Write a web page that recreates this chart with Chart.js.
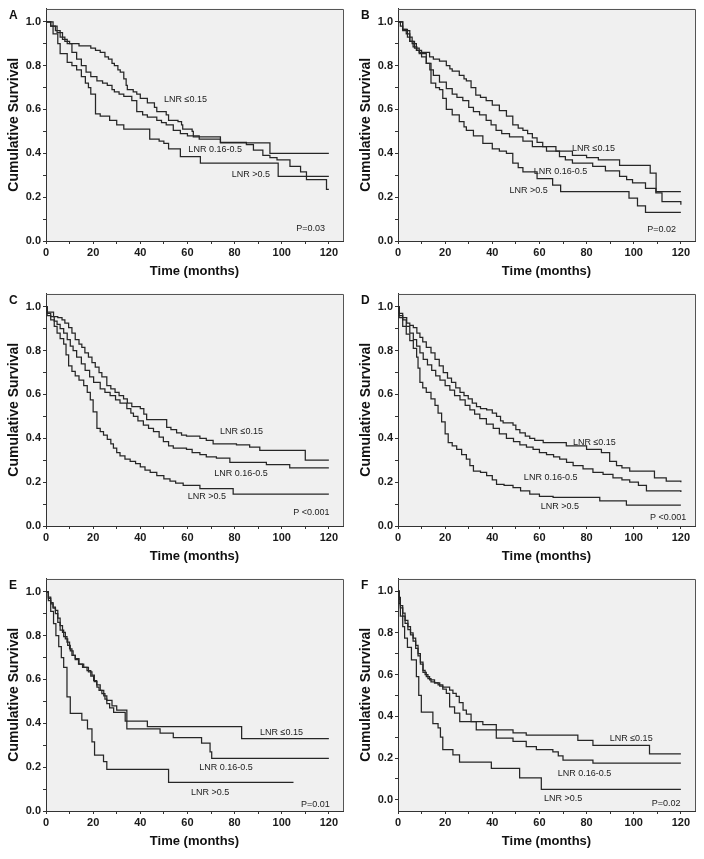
<!DOCTYPE html>
<html>
<head>
<meta charset="utf-8">
<script src="https://cdn.jsdelivr.net/npm/chart.js@4/dist/chart.umd.min.js"></script>
<style>
  html, body { margin: 0; padding: 0; background: #fff; }
  #fig { position: relative; width: 704px; height: 859px; }
  .panel { position: absolute; width: 352px; height: 285px; }
</style>
</head>
<body>
<div id="fig">
  <div class="panel" style="left:0;top:0"><canvas id="pA" width="352" height="285"></canvas></div>
  <div class="panel" style="left:352px;top:0"><canvas id="pB" width="352" height="285"></canvas></div>
  <div class="panel" style="left:0;top:285px"><canvas id="pC" width="352" height="285"></canvas></div>
  <div class="panel" style="left:352px;top:285px"><canvas id="pD" width="352" height="285"></canvas></div>
  <div class="panel" style="left:0;top:570px"><canvas id="pE" width="352" height="285"></canvas></div>
  <div class="panel" style="left:352px;top:570px"><canvas id="pF" width="352" height="285"></canvas></div>
</div>
<script>
'use strict';

/* Axis ticks */
const X_TICKS = [0, 10, 20, 30, 40, 50, 60, 70, 80, 90, 100, 110, 120];
const Y_TICKS = [0, 0.1, 0.2, 0.3, 0.4, 0.5, 0.6, 0.7, 0.8, 0.9, 1.0];

/* Group names */
const GROUPS = ['LNR \u22640.15', 'LNR 0.16-0.5', 'LNR >0.5'];

/* Kaplan-Meier steps: [month, survival] */
const aLow = [[0,1],[2,0.98],[4,0.96],[6,0.93],[8,0.91],[10,0.90],[14,0.89],[19,0.88],[21,0.87],[23,0.86],[25,0.84],[26.5,0.83],[28,0.81],[29,0.80],[30.5,0.78],[31.5,0.77],[33,0.74],[34,0.71],[34.5,0.69],[37,0.68],[38.5,0.67],[40,0.65],[43,0.63],[46,0.61],[47,0.59],[51,0.575],[52,0.55],[56,0.545],[57.5,0.53],[58,0.51],[62,0.50],[62.5,0.475],[74,0.447],[95,0.40],[120,0.40]];
const aMid = [[0,1],[2,0.98],[4.7,0.95],[7,0.92],[9,0.90],[11,0.86],[13,0.83],[15,0.80],[17,0.77],[19,0.75],[21.6,0.73],[24,0.72],[26,0.71],[28,0.69],[29,0.68],[31,0.67],[33,0.66],[36.4,0.64],[38.5,0.59],[41,0.575],[43,0.565],[47,0.55],[49,0.54],[51,0.53],[54,0.505],[57,0.49],[60,0.48],[65,0.465],[74,0.45],[85,0.44],[88,0.415],[92,0.39],[95,0.38],[98,0.37],[103.5,0.34],[108,0.315],[110.5,0.28],[119,0.235],[120,0.235]];
const aHigh = [[0,1],[3,0.945],[5,0.90],[6,0.855],[9,0.815],[11,0.80],[13,0.78],[15,0.75],[16.7,0.72],[18,0.70],[19,0.67],[21,0.58],[23,0.57],[27,0.55],[30,0.53],[33,0.51],[44,0.465],[48,0.455],[50,0.445],[52,0.42],[57,0.385],[65.5,0.355],[98.5,0.295],[120,0.295]];

const bLow = [[0,1],[1,0.98],[2,0.965],[3.5,0.945],[5,0.91],[6.4,0.885],[8,0.87],[9,0.86],[13.4,0.84],[15,0.83],[17.6,0.82],[20.5,0.80],[22,0.785],[23,0.775],[26,0.755],[28,0.74],[29,0.73],[31,0.70],[33,0.665],[35,0.655],[37.4,0.64],[40,0.62],[43,0.595],[46,0.57],[48.7,0.53],[51,0.515],[53,0.505],[55,0.49],[57,0.47],[59,0.45],[61.4,0.43],[67,0.41],[74,0.39],[80,0.38],[85,0.37],[94,0.345],[107,0.31],[109.5,0.225],[120,0.225]];
const bMid = [[0,1],[2,0.96],[5,0.91],[7,0.88],[9,0.855],[12,0.81],[13.5,0.78],[15,0.755],[17.6,0.725],[20.5,0.695],[23,0.67],[25,0.655],[27.5,0.64],[30,0.61],[32,0.59],[34.6,0.575],[37.4,0.55],[39.5,0.53],[41.6,0.505],[44,0.49],[47.3,0.475],[53,0.455],[57,0.43],[63,0.41],[68.5,0.385],[71,0.37],[74,0.355],[82.6,0.34],[88,0.32],[94,0.295],[97,0.28],[99.5,0.265],[105,0.24],[109.4,0.22],[112,0.18],[120,0.165]];
const bHigh = [[0,1],[2,0.965],[4,0.93],[6,0.90],[7.8,0.87],[10,0.84],[12,0.81],[14,0.72],[16,0.70],[17.6,0.69],[19,0.65],[20.5,0.60],[23,0.575],[26,0.545],[28,0.52],[29,0.505],[32,0.48],[36,0.445],[40,0.42],[43,0.41],[46,0.40],[48.7,0.355],[51,0.335],[53,0.315],[59,0.285],[65.6,0.255],[69,0.225],[98,0.195],[101.6,0.16],[105,0.13],[120,0.13]];

const cLow = [[0,1],[0.5,0.975],[3.2,0.955],[5,0.95],[6.8,0.94],[8,0.925],[9.6,0.905],[11,0.88],[12.4,0.85],[14,0.83],[15.2,0.815],[16.5,0.79],[18,0.77],[19.5,0.745],[20.9,0.725],[22.5,0.70],[23.7,0.68],[25.8,0.64],[27.5,0.625],[29.3,0.61],[31,0.595],[32.9,0.58],[34.5,0.56],[36.4,0.545],[40,0.535],[41.5,0.51],[42.7,0.485],[51.2,0.45],[53,0.44],[55.4,0.425],[57.5,0.415],[59.6,0.41],[65.3,0.40],[68,0.39],[70.9,0.375],[80.8,0.37],[86.4,0.36],[90.7,0.345],[110,0.30],[120,0.30]];
const cMid = [[0,1],[0.5,0.97],[2,0.955],[3.5,0.935],[4.7,0.92],[6,0.90],[7.5,0.88],[9,0.85],[10.3,0.82],[11.5,0.80],[13,0.77],[15,0.74],[16.6,0.71],[18.5,0.68],[20.2,0.655],[23,0.625],[25,0.61],[27.2,0.595],[29.5,0.575],[31.4,0.56],[34.3,0.535],[36,0.515],[37.1,0.50],[39,0.48],[41.3,0.46],[43.5,0.445],[45.6,0.43],[48,0.405],[49.8,0.385],[52,0.365],[54,0.355],[59.6,0.35],[62,0.335],[65.3,0.325],[68,0.315],[72.3,0.31],[78,0.29],[93.5,0.28],[103.4,0.265],[120,0.265]];
const cHigh = [[0,1],[0.5,0.96],[2,0.94],[3.5,0.91],[4.7,0.88],[6,0.855],[7.5,0.83],[8.5,0.78],[9.6,0.73],[11,0.705],[12.4,0.685],[14,0.665],[16,0.64],[17.5,0.61],[18.8,0.575],[20,0.52],[21.6,0.445],[23,0.43],[24.4,0.415],[26,0.395],[27.5,0.375],[28.6,0.355],[30,0.335],[31.4,0.32],[33.5,0.305],[35.7,0.295],[38,0.285],[40,0.27],[42,0.255],[44.2,0.245],[47,0.23],[50,0.215],[52.6,0.205],[55,0.195],[58.2,0.185],[65.3,0.17],[79.4,0.145],[120,0.145]];

const dLow = [[0,1],[0.5,0.97],[2,0.95],[3.7,0.925],[5,0.915],[6.5,0.905],[8,0.88],[9.3,0.86],[10.5,0.84],[12,0.815],[14,0.79],[15.7,0.76],[17.5,0.73],[19.2,0.70],[21,0.675],[22.7,0.655],[24.5,0.63],[26.3,0.61],[28,0.595],[29.8,0.58],[31.5,0.56],[33.3,0.545],[35,0.535],[37.6,0.53],[40,0.515],[41.8,0.50],[43.5,0.48],[44.6,0.47],[48.8,0.46],[50,0.44],[51.7,0.425],[54,0.41],[55.9,0.40],[58,0.39],[61.6,0.38],[71.4,0.365],[80,0.35],[86.3,0.335],[89.8,0.295],[92.7,0.275],[95,0.265],[98.3,0.25],[108.8,0.22],[113.8,0.205],[120,0.20]];
const dMid = [[0,1],[0.5,0.96],[2,0.94],[3.5,0.91],[5,0.88],[6.5,0.85],[7.9,0.82],[9.3,0.79],[10.7,0.76],[12.5,0.735],[14.3,0.71],[16,0.685],[17.8,0.665],[20,0.64],[22,0.62],[24,0.595],[26.3,0.575],[28.5,0.55],[30.5,0.53],[32.5,0.51],[34.7,0.49],[37.5,0.465],[40.4,0.445],[43,0.42],[46,0.40],[49,0.385],[51.7,0.37],[54.5,0.36],[57.3,0.35],[60,0.335],[63,0.325],[66,0.315],[68.6,0.305],[71.5,0.29],[74.3,0.275],[78.5,0.26],[82.7,0.245],[87,0.235],[91.2,0.22],[95,0.21],[98.3,0.20],[102,0.185],[105.4,0.16],[120,0.155]];
const dHigh = [[0,1],[0.5,0.95],[2,0.91],[3.5,0.875],[5,0.845],[6.5,0.81],[7.9,0.77],[8.5,0.72],[9.3,0.655],[10.5,0.63],[12,0.61],[14,0.58],[15.7,0.55],[17,0.515],[18.5,0.475],[20,0.42],[21.3,0.38],[23,0.365],[24.9,0.35],[27,0.325],[29,0.305],[30.5,0.275],[32,0.25],[35,0.245],[37.6,0.23],[40,0.21],[41.8,0.19],[45,0.185],[48.8,0.175],[52,0.16],[55.9,0.145],[60,0.135],[65.8,0.13],[80,0.13],[85.6,0.115],[96.9,0.095],[120,0.095]];

const eLow = [[0,1],[1,0.975],[2,0.95],[3,0.93],[4,0.915],[5,0.88],[6,0.845],[7,0.815],[8.2,0.785],[9.2,0.755],[10.3,0.73],[11.5,0.71],[12.4,0.695],[14,0.67],[16,0.655],[18,0.635],[19.5,0.62],[20.5,0.59],[21.6,0.565],[22.5,0.55],[23.7,0.535],[25,0.51],[25.8,0.49],[27,0.47],[28.7,0.45],[33.6,0.41],[43,0.385],[83,0.33],[120,0.33]];
const eMid = [[0,1],[1,0.97],[2,0.945],[3,0.925],[4,0.90],[5,0.86],[6,0.825],[7.5,0.795],[8.9,0.77],[10,0.74],[11,0.71],[12.4,0.69],[13.8,0.67],[15.5,0.655],[17.4,0.64],[19,0.615],[20.2,0.595],[21.5,0.575],[23,0.55],[24.5,0.525],[25.8,0.505],[28,0.48],[30,0.46],[34.3,0.375],[48.4,0.355],[54,0.335],[66,0.31],[69.6,0.27],[70.3,0.24],[120,0.24]];
const eHigh = [[0,1],[1,0.96],[2,0.91],[3.2,0.855],[4.2,0.80],[5.4,0.75],[6.5,0.70],[7.5,0.655],[8.9,0.52],[10.3,0.445],[15.2,0.415],[17.6,0.375],[19.5,0.315],[20.6,0.255],[24.4,0.225],[25.8,0.19],[52,0.13],[105,0.13]];

const fLow = [[0,1],[0.5,0.97],[1,0.93],[2,0.895],[3,0.86],[4.2,0.83],[5.3,0.80],[6.4,0.775],[7.5,0.74],[8.5,0.70],[9.5,0.66],[10.6,0.62],[11.5,0.60],[12.7,0.58],[14,0.565],[15.5,0.56],[17,0.55],[19,0.54],[21.9,0.525],[23.3,0.51],[24.7,0.495],[26,0.465],[27.6,0.43],[29,0.41],[31,0.375],[36,0.36],[41.7,0.335],[48.8,0.32],[54.4,0.31],[76.3,0.285],[82.7,0.26],[106.7,0.22],[120,0.22]];
const fMid = [[0,1],[0.5,0.96],[1,0.92],[2,0.88],[3,0.845],[4.2,0.815],[5.3,0.79],[6.4,0.76],[7.5,0.725],[8.5,0.69],[9.5,0.65],[10.6,0.61],[12,0.59],[13.4,0.575],[15.5,0.56],[17.7,0.545],[19,0.53],[20.5,0.51],[21.9,0.445],[24,0.415],[26.2,0.375],[33.2,0.335],[41.7,0.295],[48.8,0.28],[54.4,0.255],[58.7,0.24],[65.7,0.23],[68,0.21],[70,0.19],[82.7,0.175],[120,0.175]];
const fHigh = [[0,1],[0.5,0.94],[1,0.88],[2,0.83],[2.8,0.775],[4,0.73],[5.7,0.67],[7.8,0.59],[8.8,0.50],[9.9,0.42],[14.8,0.365],[17,0.345],[18,0.30],[19,0.24],[23.3,0.215],[26.1,0.18],[39.6,0.15],[51.6,0.105],[60.8,0.05],[120,0.05]];

/* P values per panel */
const P_TEXT = ['P=0.03', 'P=0.02', 'P <0.001', 'P <0.001', 'P=0.01', 'P=0.02'];

/* Where the group names and P value sit, in data units [month, survival] */
const LABEL_AT = [
  [[50.1, 0.645], [60.4, 0.415], [78.8, 0.305]],
  [[73.8, 0.42], [57.6, 0.316], [47.3, 0.23]],
  [[73.8, 0.43], [71.4, 0.24], [60.1, 0.135]],
  [[74.2, 0.38], [53.4, 0.22], [60.6, 0.09]],
  [[90.8, 0.357], [65, 0.198], [61.5, 0.085]],
  [[89.8, 0.295], [67.8, 0.128], [61.9, 0.008]]
];
const P_AT = [[118.4, 0.057], [117.9, 0.054], [120.3, 0.062], [122.3, 0.04], [120.4, 0.03], [119.9, -0.016]];

const PANELS = [
  { id: 'pA', letter: 'A', curves: [aLow, aMid, aHigh], yMin: 0 },
  { id: 'pB', letter: 'B', curves: [bLow, bMid, bHigh], yMin: 0 },
  { id: 'pC', letter: 'C', curves: [cLow, cMid, cHigh], yMin: 0 },
  { id: 'pD', letter: 'D', curves: [dLow, dMid, dHigh], yMin: 0 },
  { id: 'pE', letter: 'E', curves: [eLow, eMid, eHigh], yMin: 0 },
  { id: 'pF', letter: 'F', curves: [fLow, fMid, fHigh], yMin: -0.054 }
];

const FONT = '"Liberation Sans", Arial, Helvetica, sans-serif';
const LINE = '#262626';
const AXIS = '#333';

Chart.defaults.font.family = FONT;
Chart.defaults.color = '#1a1a1a';

/* Plot background and top/right frame */
const framePlugin = {
  id: 'frame',
  beforeDraw(chart) {
    const { ctx, chartArea: a } = chart;
    ctx.save();
    ctx.fillStyle = '#f0f0f0';
    ctx.fillRect(a.left, a.top, a.right - a.left, a.bottom - a.top);
    ctx.restore();
  },
  afterDatasetsDraw(chart) {
    const { ctx, chartArea: a } = chart;
    ctx.save();
    ctx.strokeStyle = '#555';
    ctx.lineWidth = 1;
    ctx.beginPath();
    ctx.moveTo(a.left, Math.round(a.top) + 0.5);
    ctx.lineTo(Math.round(a.right) + 0.5, Math.round(a.top) + 0.5);
    ctx.lineTo(Math.round(a.right) + 0.5, a.bottom);
    ctx.stroke();
    ctx.restore();
  }
};

/* Panel letter, group names and P value */
const textPlugin = {
  id: 'notes',
  afterDraw(chart, args, opts) {
    const { ctx, scales: { x, y } } = chart;
    ctx.save();
    ctx.fillStyle = '#111';
    ctx.font = 'bold 12px ' + FONT;
    ctx.textAlign = 'left';
    ctx.textBaseline = 'alphabetic';
    ctx.fillText(opts.letter, 9, 19);

    ctx.fillStyle = '#222';
    ctx.font = '9px ' + FONT;
    ctx.textBaseline = 'middle';
    opts.labels.forEach((pos, i) => {
      ctx.fillText(GROUPS[i], x.getPixelForValue(pos[0]), y.getPixelForValue(pos[1]));
    });
    ctx.textAlign = 'right';
    ctx.fillText(opts.pText, x.getPixelForValue(opts.pAt[0]), y.getPixelForValue(opts.pAt[1]));
    ctx.restore();
  }
};

function makePanel(panel, i) {
  const ctx = document.getElementById(panel.id).getContext('2d');
  return new Chart(ctx, {
    type: 'line',
    data: {
      datasets: panel.curves.map((curve, k) => ({
        label: GROUPS[k],
        data: curve.map(p => ({ x: p[0], y: p[1] })),
        borderColor: LINE,
        borderWidth: 1.25,
        pointRadius: 0,
        fill: false,
        stepped: true,
        tension: 0
      }))
    },
    options: {
      responsive: false,
      devicePixelRatio: 1,
      animation: false,
      events: [],
      layout: { padding: { top: 8, right: 9, bottom: 0, left: 0 } },
      plugins: {
        legend: { display: false },
        tooltip: { enabled: false },
        notes: { letter: panel.letter, labels: LABEL_AT[i], pText: P_TEXT[i], pAt: P_AT[i] }
      },
      scales: {
        x: {
          type: 'linear',
          min: 0,
          max: 126,
          afterBuildTicks: s => { s.ticks = X_TICKS.map(v => ({ value: v })); },
          afterFit: s => { s.height = 44; },
          ticks: {
            autoSkip: false,
            maxRotation: 0,
            padding: 2.5,
            color: '#1a1a1a',
            font: { size: 11, weight: 'bold' },
            callback: v => (v % 20 === 0 ? String(v) : '')
          },
          grid: { drawOnChartArea: false, drawTicks: true, tickLength: 3, color: AXIS },
          border: { display: true, color: AXIS, width: 1 },
          title: {
            display: true,
            text: 'Time (months)',
            color: '#111',
            font: { size: 13, weight: 'bold' },
            padding: { top: 0, bottom: 5.5 }
          }
        },
        y: {
          type: 'linear',
          min: panel.yMin,
          max: 1.06,
          afterBuildTicks: s => { s.ticks = Y_TICKS.map(v => ({ value: v })); },
          afterFit: s => { s.width = 46; },
          ticks: {
            autoSkip: false,
            padding: 2,
            color: '#1a1a1a',
            font: { size: 11, weight: 'bold' },
            callback: v => (Math.round(v * 10) % 2 === 0 ? v.toFixed(1) : '')
          },
          grid: { drawOnChartArea: false, drawTicks: true, tickLength: 3, color: AXIS },
          border: { display: true, color: AXIS, width: 1 },
          title: {
            display: true,
            text: 'Cumulative Survival',
            color: '#111',
            font: { size: 14, weight: 'bold' },
            padding: { top: 5.4, bottom: 0 }
          }
        }
      }
    },
    plugins: [framePlugin, textPlugin]
  });
}

PANELS.forEach(makePanel);
</script>
</body>
</html>
